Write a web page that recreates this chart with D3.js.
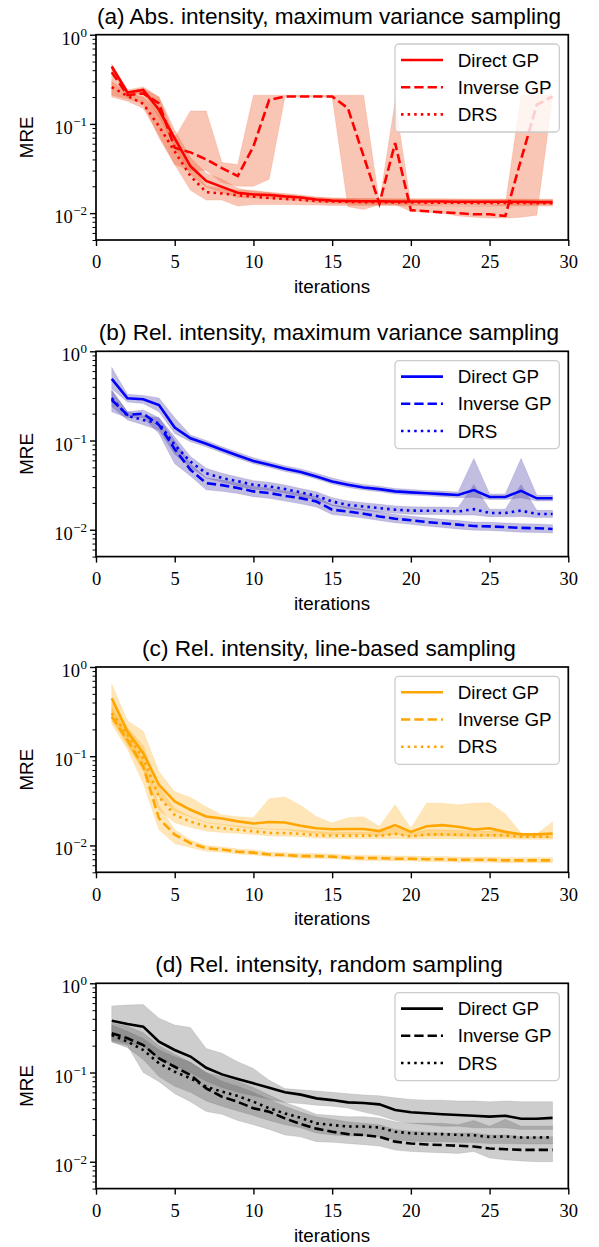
<!DOCTYPE html>
<html>
<head>
<meta charset="utf-8">
<script src="https://cdn.jsdelivr.net/npm/d3@7/dist/d3.min.js"></script>
<style>
  body { margin: 0; background: #fff; }
  svg { display: block; }
</style>
</head>
<body>
<div id="chart"></div>
<script>
// x values
var iterations = [1,2,3,4,5,6,7,8,9,10,11,12,13,14,15,16,17,18,19,20,21,22,23,24,25,26,27,28,29];
var seriesNames = ["Direct GP", "Inverse GP", "DRS"];
var xTicks = [0, 5, 10, 15, 20, 25, 30];
var yMajor = [0.01, 0.1, 1];
var yExp = ["\u22122", "\u22121", "0"];
var yMinor = [0.005,0.006,0.007,0.008,0.009,0.02,0.03,0.04,0.05,0.06,0.07,0.08,0.09,0.2,0.3,0.4,0.5,0.6,0.7,0.8,0.9];

// (a) Abs. intensity, maximum variance sampling
var aDirect    = [0.44,0.225,0.24,0.144,0.069,0.0335,0.023,0.0197,0.0169,0.0162,0.016,0.0154,0.015,0.0142,0.0138,0.0137,0.0136,0.0136,0.0135,0.0135,0.0135,0.0135,0.0134,0.0134,0.0134,0.0134,0.0134,0.0133,0.0133];
var aDirectLo  = [0.40,0.21,0.22,0.12,0.055,0.027,0.0195,0.017,0.015,0.0148,0.0146,0.0142,0.0138,0.0131,0.0128,0.0127,0.0126,0.0126,0.0126,0.0125,0.0125,0.0125,0.0125,0.0125,0.0125,0.0125,0.0125,0.0125,0.0125];
var aDirectHi  = [0.47,0.24,0.26,0.2,0.085,0.042,0.028,0.024,0.019,0.0175,0.0172,0.0166,0.016,0.0152,0.0148,0.0146,0.0146,0.0145,0.0145,0.0145,0.0145,0.0145,0.0144,0.0144,0.0144,0.0144,0.0144,0.0143,0.0143];
var aInverse   = [0.38,0.21,0.22,0.17,0.054,0.048,0.040,0.032,0.026,0.056,0.186,0.203,0.203,0.203,0.203,0.15,0.0434,0.0128,0.061,0.0108,0.0105,0.0102,0.0100,0.0097,0.0097,0.0093,0.040,0.164,0.203];
var aInverseLo = [0.21,0.19,0.17,0.07,0.035,0.03,0.03,0.022,0.02,0.02,0.024,0.2,0.2,0.2,0.2,0.0118,0.011,0.0125,0.0125,0.0105,0.0103,0.0100,0.0093,0.009,0.0088,0.0088,0.009,0.0095,0.2];
var aInverseHi = [0.42,0.23,0.25,0.2,0.07,0.14,0.14,0.037,0.035,0.21,0.21,0.21,0.21,0.21,0.21,0.21,0.21,0.013,0.18,0.0125,0.0125,0.012,0.012,0.012,0.012,0.0125,0.21,0.21,0.21];
var aDrs       = [0.258,0.206,0.168,0.094,0.049,0.026,0.0172,0.0166,0.0159,0.0153,0.0148,0.0144,0.0141,0.0137,0.0135,0.0134,0.0133,0.0133,0.0132,0.0132,0.0131,0.0131,0.0131,0.0130,0.0130,0.0130,0.0130,0.0129,0.0129];
var aDrsLo     = [0.2,0.18,0.15,0.075,0.035,0.018,0.014,0.014,0.012,0.0125,0.0125,0.0125,0.0124,0.0123,0.0122,0.0122,0.0122,0.0122,0.0121,0.0121,0.0121,0.0121,0.0121,0.012,0.012,0.012,0.012,0.012,0.012];
var aDrsHi     = [0.3,0.22,0.2,0.13,0.065,0.035,0.02,0.019,0.018,0.018,0.017,0.016,0.0155,0.015,0.0148,0.0146,0.0145,0.0145,0.0144,0.0144,0.0143,0.0143,0.0143,0.0142,0.0142,0.0142,0.0142,0.0141,0.0141];

// (b) Rel. intensity, maximum variance sampling
var bDirect    = [0.49,0.298,0.29,0.25,0.14,0.106,0.092,0.0787,0.068,0.059,0.0534,0.0482,0.0445,0.0395,0.0348,0.0319,0.0298,0.0285,0.0269,0.0262,0.0256,0.0251,0.0245,0.0278,0.0233,0.0233,0.0273,0.0225,0.0225];
var bDirectLo  = [0.38,0.27,0.26,0.21,0.12,0.097,0.085,0.073,0.063,0.055,0.05,0.045,0.0415,0.037,0.0325,0.0298,0.0279,0.0267,0.0252,0.0245,0.024,0.0235,0.0229,0.0232,0.0218,0.0218,0.0228,0.021,0.021];
var bDirectHi  = [0.66,0.33,0.32,0.3,0.18,0.115,0.1,0.085,0.074,0.064,0.058,0.052,0.048,0.043,0.038,0.0345,0.0322,0.0308,0.029,0.0283,0.0276,0.0271,0.0265,0.063,0.0252,0.0252,0.063,0.0243,0.0243];
var bInverse   = [0.285,0.194,0.2,0.15,0.08,0.047,0.0333,0.0316,0.0294,0.0269,0.0258,0.024,0.0226,0.0207,0.0168,0.016,0.0151,0.0141,0.0133,0.0128,0.0122,0.0118,0.0114,0.011,0.0109,0.0107,0.0105,0.0104,0.0102];
var bInverseLo = [0.21,0.18,0.18,0.12,0.055,0.04,0.028,0.027,0.0255,0.0235,0.0225,0.021,0.0195,0.018,0.0148,0.0142,0.0135,0.0127,0.012,0.0115,0.011,0.0106,0.0102,0.0099,0.0098,0.0096,0.0094,0.0093,0.0092];
var bInverseHi = [0.36,0.21,0.22,0.18,0.1,0.055,0.038,0.036,0.0335,0.0305,0.0292,0.0272,0.0256,0.0235,0.019,0.018,0.017,0.0158,0.0148,0.0142,0.0136,0.0131,0.0127,0.0122,0.0121,0.0119,0.0117,0.0116,0.0114];
var bDrs       = [0.298,0.189,0.17,0.156,0.089,0.058,0.043,0.038,0.035,0.0319,0.0306,0.0286,0.0262,0.024,0.0207,0.019,0.0182,0.0175,0.0168,0.0164,0.0163,0.0163,0.016,0.017,0.0154,0.0154,0.0164,0.015,0.015];
var bDrsLo     = [0.24,0.17,0.15,0.13,0.07,0.05,0.038,0.034,0.031,0.0285,0.0275,0.0257,0.0236,0.0216,0.0187,0.0172,0.0165,0.0159,0.0153,0.0149,0.0148,0.0148,0.0146,0.0146,0.014,0.014,0.0141,0.0137,0.0137];
var bDrsHi     = [0.37,0.21,0.19,0.18,0.11,0.066,0.049,0.043,0.039,0.0355,0.034,0.0318,0.029,0.0266,0.0229,0.021,0.0201,0.0193,0.0185,0.0181,0.018,0.018,0.0177,0.032,0.017,0.017,0.032,0.0165,0.0165];

// (c) Rel. intensity, line-based sampling
var cDirect    = [0.446,0.189,0.108,0.0478,0.0311,0.0251,0.0211,0.02,0.0186,0.0176,0.0183,0.0181,0.0166,0.0156,0.0152,0.0153,0.0153,0.0145,0.0169,0.0142,0.0164,0.0169,0.0162,0.0151,0.0156,0.0142,0.0133,0.0133,0.0136];
var cDirectLo  = [0.27,0.13,0.07,0.035,0.024,0.021,0.018,0.0172,0.0162,0.0155,0.0152,0.015,0.0142,0.0135,0.0133,0.0133,0.0133,0.0128,0.0134,0.0126,0.0128,0.0128,0.0127,0.0126,0.0126,0.0124,0.0122,0.0122,0.0122];
var cDirectHi  = [0.64,0.25,0.19,0.067,0.04,0.0345,0.027,0.022,0.021,0.0205,0.0334,0.035,0.028,0.021,0.0178,0.0205,0.021,0.0163,0.0285,0.0156,0.0297,0.0297,0.0285,0.0297,0.030,0.0225,0.0138,0.0135,0.0183];
var cInverse   = [0.278,0.152,0.0766,0.0201,0.0132,0.0106,0.0093,0.009,0.0085,0.0083,0.0079,0.0078,0.0076,0.0076,0.0075,0.0073,0.0072,0.0072,0.0071,0.0071,0.0070,0.0070,0.0069,0.0069,0.0069,0.0068,0.0068,0.0068,0.0068];
var cInverseLo = [0.23,0.12,0.05,0.015,0.0105,0.0095,0.0086,0.0084,0.008,0.0078,0.0075,0.0074,0.0072,0.0072,0.0071,0.0069,0.0068,0.0068,0.0067,0.0067,0.0066,0.0066,0.0065,0.0065,0.0065,0.0064,0.0064,0.0064,0.0064];
var cInverseHi = [0.35,0.18,0.09,0.028,0.015,0.0115,0.0100,0.0096,0.0091,0.0089,0.0084,0.0083,0.0081,0.0081,0.008,0.0078,0.0077,0.0077,0.0076,0.0076,0.0075,0.0075,0.0074,0.0074,0.0074,0.0073,0.0073,0.0073,0.0073];
var cDrs       = [0.303,0.174,0.095,0.035,0.022,0.0185,0.0163,0.0156,0.015,0.0144,0.0138,0.0138,0.0135,0.013,0.0129,0.0129,0.0129,0.0128,0.0135,0.0126,0.0133,0.0133,0.0132,0.013,0.013,0.013,0.0125,0.0125,0.0125];
var cDrsLo     = [0.25,0.14,0.07,0.025,0.018,0.016,0.0145,0.014,0.0137,0.0133,0.0128,0.0127,0.0125,0.0121,0.012,0.012,0.012,0.0119,0.012,0.0118,0.0119,0.0119,0.0119,0.0118,0.0118,0.0118,0.0117,0.0117,0.0117];
var cDrsHi     = [0.4,0.21,0.13,0.045,0.026,0.021,0.018,0.0172,0.0165,0.0158,0.0152,0.0151,0.0148,0.0143,0.0141,0.0141,0.0141,0.014,0.016,0.0137,0.015,0.015,0.0148,0.0145,0.0145,0.0145,0.0136,0.0136,0.0136];

// (d) Rel. intensity, random sampling
var dDirect    = [0.381,0.35,0.327,0.222,0.179,0.151,0.113,0.0953,0.0845,0.0756,0.0676,0.06,0.0565,0.0513,0.0491,0.0463,0.0455,0.044,0.038,0.0358,0.0349,0.034,0.0334,0.0328,0.032,0.0328,0.0303,0.0303,0.031];
var dDirectLo  = [0.23,0.21,0.2,0.14,0.12,0.1,0.08,0.068,0.06,0.055,0.05,0.046,0.045,0.043,0.042,0.04,0.036,0.033,0.029,0.027,0.026,0.025,0.025,0.024,0.024,0.024,0.023,0.023,0.023];
var dDirectHi  = [0.557,0.57,0.58,0.405,0.34,0.32,0.186,0.164,0.132,0.111,0.082,0.066,0.064,0.062,0.06,0.058,0.056,0.055,0.052,0.05,0.049,0.049,0.048,0.048,0.047,0.048,0.047,0.047,0.047];
var dInverse   = [0.275,0.242,0.203,0.144,0.116,0.0938,0.0665,0.0536,0.047,0.0397,0.0364,0.0306,0.0265,0.0235,0.0217,0.0204,0.0199,0.019,0.0168,0.016,0.0156,0.0154,0.0151,0.0148,0.0141,0.0138,0.0136,0.0136,0.0136];
var dInverseLo = [0.22,0.2,0.1,0.079,0.058,0.047,0.0365,0.034,0.029,0.026,0.023,0.02,0.019,0.0168,0.0165,0.016,0.0155,0.015,0.0135,0.013,0.0128,0.0126,0.0124,0.013,0.011,0.0105,0.0102,0.01,0.01];
var dInverseHi = [0.36,0.33,0.28,0.2,0.16,0.13,0.1,0.08,0.07,0.06,0.05,0.042,0.036,0.032,0.03,0.028,0.027,0.026,0.023,0.022,0.0215,0.021,0.021,0.021,0.02,0.02,0.019,0.019,0.019];
var dDrs       = [0.263,0.222,0.179,0.127,0.102,0.086,0.0694,0.061,0.0545,0.0471,0.0397,0.0348,0.0311,0.0269,0.0258,0.0248,0.0248,0.0242,0.0217,0.0208,0.0205,0.0204,0.02,0.0198,0.019,0.0192,0.0187,0.0187,0.0188];
var dDrsLo     = [0.22,0.19,0.14,0.09,0.07,0.06,0.048,0.042,0.037,0.033,0.029,0.026,0.024,0.021,0.02,0.0195,0.0195,0.019,0.0175,0.017,0.0168,0.0167,0.0165,0.0164,0.016,0.016,0.0158,0.0158,0.0158];
var dDrsHi     = [0.34,0.29,0.24,0.18,0.15,0.13,0.1,0.09,0.08,0.068,0.056,0.046,0.04,0.034,0.033,0.032,0.032,0.031,0.028,0.027,0.027,0.027,0.026,0.029,0.025,0.03,0.025,0.025,0.025];

var panels = [
  { title: "(a) Abs. intensity, maximum variance sampling", line: "#ff0000", band: "rgb(240,110,70)", alpha: 0.4,
    mean: [aDirect, aInverse, aDrs], lo: [aDirectLo, aInverseLo, aDrsLo], hi: [aDirectHi, aInverseHi, aDrsHi] },
  { title: "(b) Rel. intensity, maximum variance sampling", line: "#0000ff", band: "rgb(80,70,170)", alpha: 0.35,
    mean: [bDirect, bInverse, bDrs], lo: [bDirectLo, bInverseLo, bDrsLo], hi: [bDirectHi, bInverseHi, bDrsHi] },
  { title: "(c) Rel. intensity, line-based sampling", line: "#ffa500", band: "rgb(255,165,0)", alpha: 0.28,
    mean: [cDirect, cInverse, cDrs], lo: [cDirectLo, cInverseLo, cDrsLo], hi: [cDirectHi, cInverseHi, cDrsHi] },
  { title: "(d) Rel. intensity, random sampling", line: "#000000", band: "rgb(90,90,90)", alpha: 0.3,
    mean: [dDirect, dInverse, dDrs], lo: [dDirectLo, dInverseLo, dDrsLo], hi: [dDirectHi, dInverseHi, dDrsHi] }
];

var w = 599, h = 1247;
var left = 96, right = 568.3, plotH = 205.3;
var tops = [34.7, 351.3, 667, 983.3];
var dashes = [null, "9.3,4", "2.5,4.1"];
var sans = "'Liberation Sans', Arial, Helvetica, sans-serif";
var serif = "'Liberation Serif', 'Times New Roman', serif";

var svg = d3.select("#chart").append("svg")
  .attr("width", w)
  .attr("height", h);

var x = d3.scaleLinear().domain([0, 30]).range([left, right]);

panels.forEach(function (p, k) {
  var top = tops[k];
  var y = d3.scaleLog().domain([0.005, 1]).range([top + plotH, top]);
  var g = svg.append("g");

  // bands
  p.mean.forEach(function (m, s) {
    var area = d3.area()
      .x(function (d, i) { return x(iterations[i]); })
      .y0(function (d, i) { return y(p.lo[s][i]); })
      .y1(function (d, i) { return y(p.hi[s][i]); });
    g.append("path")
      .attr("d", area(m))
      .attr("fill", p.band)
      .attr("fill-opacity", p.alpha)
      .attr("stroke", p.band)
      .attr("stroke-opacity", p.alpha * 0.6)
      .attr("stroke-width", 0.8);
  });

  // lines
  p.mean.forEach(function (m, s) {
    var line = d3.line()
      .x(function (d, i) { return x(iterations[i]); })
      .y(function (d) { return y(d); });
    g.append("path")
      .attr("d", line(m))
      .attr("fill", "none")
      .attr("stroke", p.line)
      .attr("stroke-width", 2.6)
      .attr("stroke-dasharray", dashes[s]);
  });

  // x axis
  var xAxis = g.append("g")
    .attr("transform", "translate(0," + (top + plotH) + ")")
    .call(d3.axisBottom(x).tickValues(xTicks).tickSize(6).tickPadding(6).tickFormat(d3.format("d")));
  xAxis.select(".domain").remove();
  xAxis.selectAll("line").attr("stroke-width", 1.4);
  xAxis.selectAll("text")
    .attr("font-family", serif)
    .attr("font-size", "18.5px")
    .attr("fill", "#000")
    .attr("dy", null)
    .attr("y", 28.3);

  // y axis, minor ticks
  var yMin = g.append("g")
    .attr("transform", "translate(" + left + ",0)")
    .call(d3.axisLeft(y).tickValues(yMinor).tickSize(3.5).tickFormat(""));
  yMin.select(".domain").remove();
  yMin.selectAll("line").attr("stroke-width", 1);

  // y axis, major ticks with 10^n labels
  var yMaj = g.append("g")
    .attr("transform", "translate(" + left + ",0)")
    .call(d3.axisLeft(y).tickValues(yMajor).tickSize(6).tickFormat(""));
  yMaj.select(".domain").remove();
  yMaj.selectAll("line").attr("stroke-width", 1.4);
  yMaj.selectAll(".tick").each(function (d, i) {
    var t = d3.select(this).append("text")
      .attr("x", -9)
      .attr("y", 9.5)
      .attr("text-anchor", "end")
      .attr("font-family", serif)
      .attr("fill", "#000");
    t.append("tspan").attr("font-size", "18.5px").text("10");
    t.append("tspan").attr("font-size", "13px").attr("dy", -8).attr("dx", 0.5).text(yExp[i]);
  });

  // frame
  g.append("rect")
    .attr("x", left)
    .attr("y", top)
    .attr("width", right - left)
    .attr("height", plotH)
    .attr("fill", "none")
    .attr("stroke", "#000")
    .attr("stroke-width", 1.7);

  // title & labels
  g.append("text")
    .attr("x", 329)
    .attr("y", top - 11)
    .attr("text-anchor", "middle")
    .attr("font-family", sans)
    .attr("font-size", "22.6px")
    .text(p.title);

  g.append("text")
    .attr("x", 332)
    .attr("y", top + plotH + 53)
    .attr("text-anchor", "middle")
    .attr("font-family", sans)
    .attr("font-size", "18.8px")
    .text("iterations");

  g.append("text")
    .attr("transform", "translate(33.3," + (top + plotH / 2) + ") rotate(-90)")
    .attr("text-anchor", "middle")
    .attr("font-family", sans)
    .attr("font-size", "18.8px")
    .text("MRE");

  // legend
  var lg = g.append("g").attr("transform", "translate(395," + (top + 9.3) + ")");
  lg.append("rect")
    .attr("width", 164.3)
    .attr("height", 88)
    .attr("rx", 4)
    .attr("fill", "#fff")
    .attr("fill-opacity", 0.8)
    .attr("stroke", "#cccccc")
    .attr("stroke-width", 1.3);
  seriesNames.forEach(function (name, s) {
    var ry = 16 + s * 27.2;
    lg.append("line")
      .attr("x1", 6).attr("x2", 48)
      .attr("y1", ry).attr("y2", ry)
      .attr("stroke", p.line)
      .attr("stroke-width", 2.6)
      .attr("stroke-dasharray", dashes[s]);
    lg.append("text")
      .attr("x", 62.7)
      .attr("y", ry + 6.7)
      .attr("font-family", sans)
      .attr("font-size", "18.8px")
      .text(name);
  });
});
</script>
</body>
</html>
